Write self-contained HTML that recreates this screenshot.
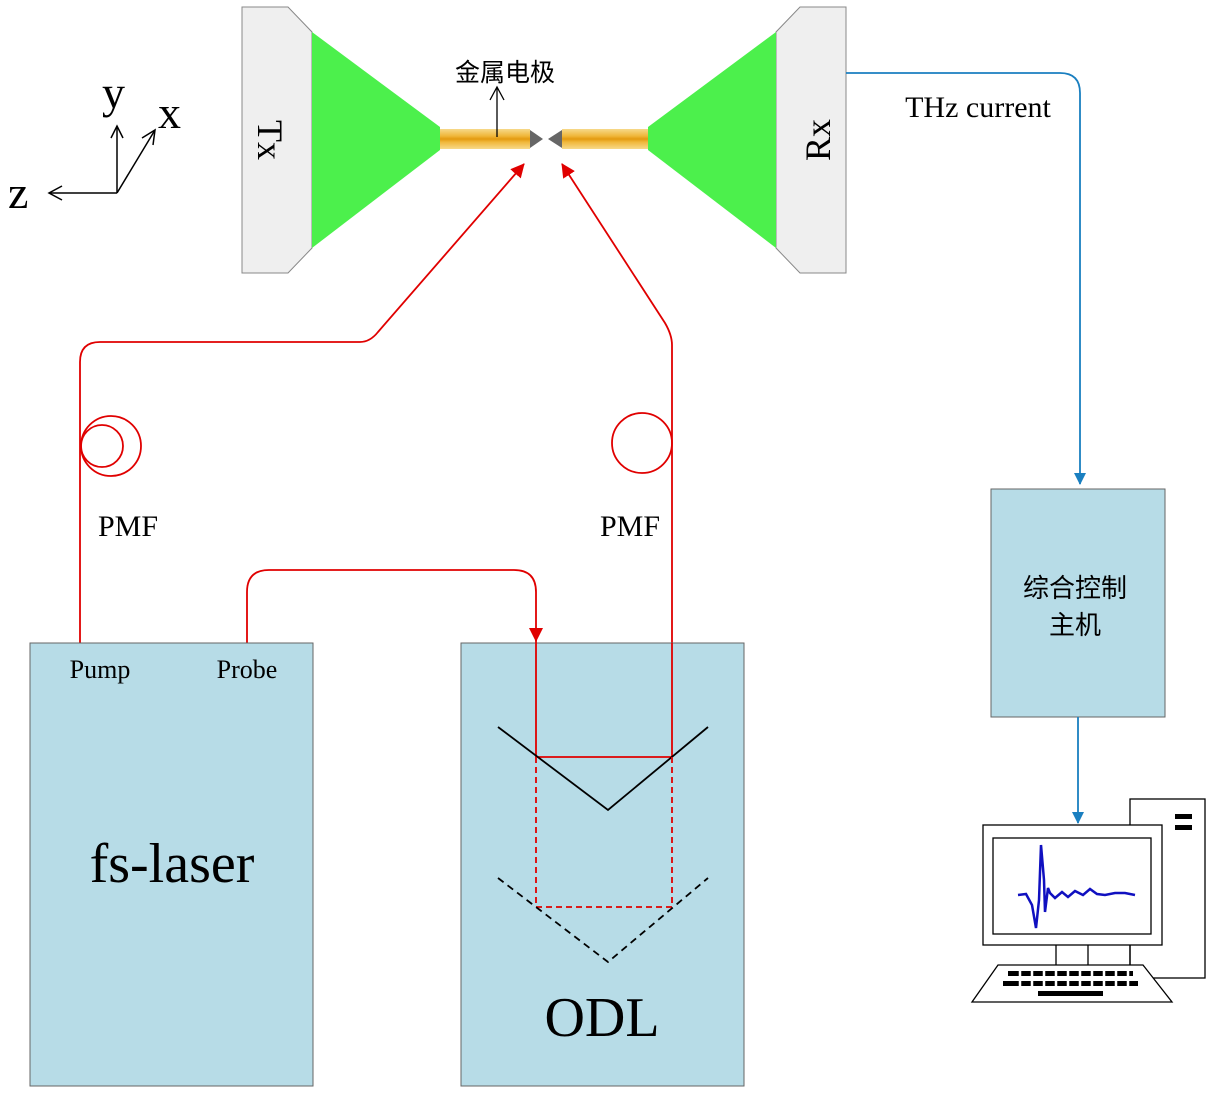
<!DOCTYPE html>
<html><head><meta charset="utf-8"><style>
html,body{margin:0;padding:0;background:#fff;}
svg{display:block;}
text{font-family:"Liberation Serif","Noto Serif CJK SC",serif;fill:#000;}
.cjk{font-family:"Liberation Serif","Noto Sans CJK SC",sans-serif;}
</style></head><body>
<svg width="1207" height="1094" viewBox="0 0 1207 1094" xmlns="http://www.w3.org/2000/svg">
<defs>
<marker id="ar" markerWidth="14" markerHeight="14" refX="13" refY="7" orient="auto" markerUnits="userSpaceOnUse"><path d="M0,0 L14,7 L0,14 z" fill="#e00000"/></marker>
<marker id="ab" markerWidth="12" markerHeight="12" refX="11" refY="6" orient="auto" markerUnits="userSpaceOnUse"><path d="M0,0 L12,6 L0,12 z" fill="#1a7fc0"/></marker>
<linearGradient id="gold" x1="0" y1="0" x2="0" y2="1">
<stop offset="0" stop-color="#f7d98a"/><stop offset="0.35" stop-color="#f0b73a"/><stop offset="0.5" stop-color="#e39a10"/><stop offset="0.65" stop-color="#f0b73a"/><stop offset="1" stop-color="#f7d98a"/></linearGradient>
</defs>

<polygon points="242,7 288,7 312,32 312,248 288,273 242,273" fill="#efefef" stroke="#888" stroke-width="1"/>
<polygon points="312,32 440,127 440,150 312,248" fill="#4cf04c"/>
<rect x="440" y="129" width="90" height="20" fill="url(#gold)"/>
<polygon points="530,130 543,139 530,148" fill="#666"/>
<text font-size="36" transform="translate(270,140) rotate(90)" text-anchor="middle" dy="12">Tx</text>
<polygon points="846,7 800,7 776,32 776,248 800,273 846,273" fill="#efefef" stroke="#888" stroke-width="1"/>
<polygon points="776,32 648,127 648,150 776,248" fill="#4cf04c"/>
<rect x="562" y="129" width="86" height="20" fill="url(#gold)"/>
<polygon points="562,130 548,139 562,148" fill="#666"/>
<text font-size="36" transform="translate(818,140) rotate(-90)" text-anchor="middle" dy="12">Rx</text>

<text x="505" y="81" font-size="25" class="cjk" text-anchor="middle">金属电极</text>
<line x1="497" y1="137" x2="497" y2="88" stroke="#000" stroke-width="1.3"/>
<polyline points="490,100 497,87 504,100" fill="none" stroke="#000" stroke-width="1.3"/>

<g stroke="#000" stroke-width="1.5" fill="none">
<line x1="117" y1="193" x2="117" y2="126"/><polyline points="111,138 117,126 123,138"/>
<line x1="117" y1="193" x2="49" y2="193"/><polyline points="62,186 49,193 62,200"/>
<line x1="117" y1="193" x2="155" y2="130"/><polyline points="142,138 155,130 153,145"/>
</g>
<text x="102" y="108" font-size="46">y</text>
<text x="158" y="128" font-size="46">x</text>
<text x="8" y="208" font-size="46">z</text>

<g stroke="#e00000" stroke-width="1.8" fill="none">
<path d="M80,643 V362 Q80,342 100,342 H360 Q370,342 378,332 L524,164" marker-end="url(#ar)"/>
<circle cx="111" cy="446" r="30"/>
<circle cx="102" cy="446" r="21"/>
<path d="M672,757 V345 Q672,335 665,323 L562,164" marker-end="url(#ar)"/>
<circle cx="642" cy="443" r="30"/>
<path d="M247,643 V592 Q247,570 269,570 H514 Q536,570 536,592 V641" marker-end="url(#ar)"/>
</g>

<rect x="30" y="643" width="283" height="443" fill="#b7dce7" stroke="#666" stroke-width="1"/>
<rect x="461" y="643" width="283" height="443" fill="#b7dce7" stroke="#666" stroke-width="1"/>
<text x="100" y="678" font-size="26" text-anchor="middle">Pump</text>
<text x="247" y="678" font-size="26" text-anchor="middle">Probe</text>
<text x="172" y="882" font-size="56" text-anchor="middle">fs-laser</text>
<text x="602" y="1036" font-size="56" text-anchor="middle">ODL</text>
<text x="128" y="536" font-size="30" text-anchor="middle">PMF</text>
<text x="630" y="536" font-size="30" text-anchor="middle">PMF</text>

<g stroke="#e00000" stroke-width="1.8" fill="none">
<line x1="536" y1="640" x2="536" y2="757"/>
<line x1="672" y1="643" x2="672" y2="757"/>
<line x1="536" y1="757" x2="672" y2="757"/>
</g>
<polyline points="498,727 608,810 708,727" fill="none" stroke="#000" stroke-width="1.8"/>
<g stroke="#e00000" stroke-width="1.8" fill="none" stroke-dasharray="6,4">
<polyline points="536,757 536,907 672,907 672,757"/>
</g>
<polyline points="498,878 608,962 708,878" fill="none" stroke="#000" stroke-width="1.8" stroke-dasharray="7,5"/>

<path d="M846,73 H1060 Q1080,73 1080,93 V484" fill="none" stroke="#1a7fc0" stroke-width="1.8" marker-end="url(#ab)"/>
<text x="978" y="117" font-size="30" text-anchor="middle">THz current</text>
<rect x="991" y="489" width="174" height="228" fill="#b7dce7" stroke="#666" stroke-width="1"/>
<text x="1075" y="597" font-size="26" class="cjk" text-anchor="middle">综合控制</text>
<text x="1075" y="634" font-size="26" class="cjk" text-anchor="middle">主机</text>
<line x1="1078" y1="717" x2="1078" y2="823" stroke="#1a7fc0" stroke-width="1.8" marker-end="url(#ab)"/>

<rect x="1130" y="799" width="75" height="179" fill="#fff" stroke="#000" stroke-width="1.3"/>
<rect x="1175" y="814" width="17" height="5" fill="#000"/>
<rect x="1175" y="825" width="17" height="5" fill="#000"/>
<rect x="983" y="825" width="179" height="120" fill="#fff" stroke="#000" stroke-width="1.3"/>
<rect x="993" y="838" width="158" height="96" fill="#fff" stroke="#000" stroke-width="1.3"/>
<g stroke="#000" stroke-width="1.3"><line x1="1056" y1="945" x2="1056" y2="965"/><line x1="1088" y1="945" x2="1088" y2="965"/><line x1="1130" y1="945" x2="1130" y2="965"/></g>
<polygon points="998,965 1143,965 1172,1002 972,1002" fill="#fff" stroke="#000" stroke-width="1.3"/>
<g fill="#000">
<rect x="1008" y="971" width="125" height="5"/>
<rect x="1003" y="981" width="135" height="5"/>
<rect x="1038" y="991" width="65" height="5"/>
</g>
<g stroke="#fff" stroke-width="2.5">
<line x1="1020" y1="969" x2="1020" y2="988"/><line x1="1032" y1="969" x2="1032" y2="988"/><line x1="1044" y1="969" x2="1044" y2="988"/><line x1="1056" y1="969" x2="1056" y2="988"/><line x1="1068" y1="969" x2="1068" y2="988"/><line x1="1080" y1="969" x2="1080" y2="988"/><line x1="1092" y1="969" x2="1092" y2="988"/><line x1="1104" y1="969" x2="1104" y2="988"/><line x1="1116" y1="969" x2="1116" y2="988"/><line x1="1128" y1="969" x2="1128" y2="988"/>
</g>
<path d="M1018,895 L1026,894 L1032,905 L1036,928 L1039,900 L1041,845 L1044,880 L1045,912 L1048,888 L1050,893 L1055,898 L1062,892 L1068,897 L1075,891 L1083,895 L1090,889 L1097,894 L1105,895 L1115,893 L1125,893 L1135,895" fill="none" stroke="#1010c0" stroke-width="2.5"/>
</svg>
</body></html>
